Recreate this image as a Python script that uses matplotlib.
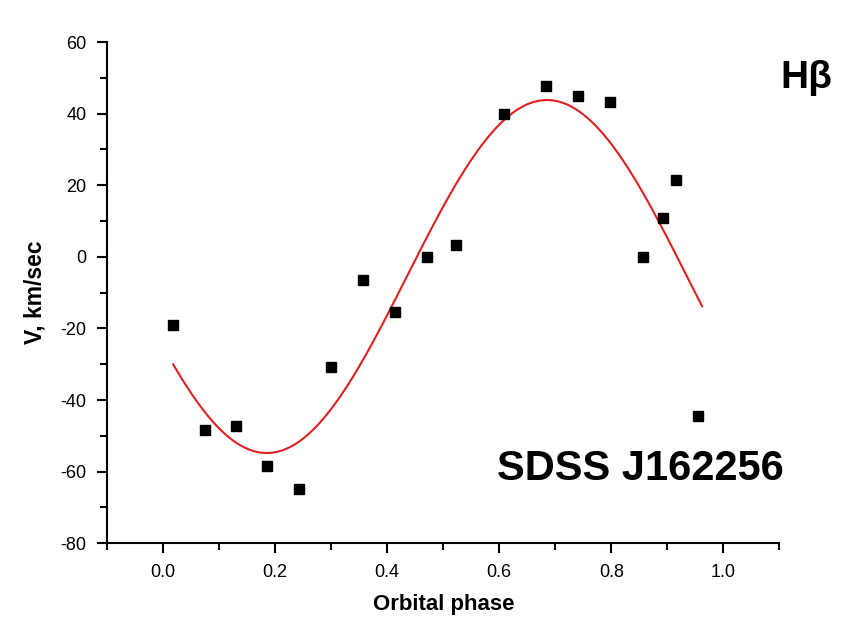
import matplotlib
matplotlib.use('Agg')
import numpy as np
from matplotlib import pyplot as plt
from matplotlib.ticker import MultipleLocator, FormatStrFormatter

plt.rcParams['font.family'] = ['Liberation Sans', 'DejaVu Sans']
plt.rcParams['axes.unicode_minus'] = False

# observed radial velocities (H-beta)
phase = [0.018, 0.075, 0.130, 0.186, 0.243, 0.300, 0.357, 0.414, 0.471,
         0.523, 0.609, 0.684, 0.741, 0.798, 0.857, 0.893, 0.916, 0.955]
velocity = [-19.0, -48.4, -47.3, -58.4, -64.9, -30.8, -6.5, -15.4, 0.0,
            3.3, 39.9, 47.7, 44.9, 43.2, 0.0, 10.8, 21.5, -44.5]

# sine fit parameters: V = gamma + K sin(2pi(phi - phi0))
gamma = -5.5
K = 49.3
phi0 = 0.435
fit_start, fit_end = 0.018, 0.962

fig = plt.figure(figsize=(8.5, 6.18), dpi=100)
ax = fig.add_axes([0.126, 0.121, 0.791, 0.811])

ph = np.linspace(fit_start, fit_end, 300)
ax.plot(ph, gamma + K * np.sin(2 * np.pi * (ph - phi0)), color='#e02020', lw=1.5)
ax.plot(phase, velocity, 's', color='black', ms=7.5)

ax.set_xlim(-0.1, 1.1)
ax.set_ylim(-80, 60)
ax.xaxis.set_major_locator(MultipleLocator(0.2))
ax.xaxis.set_minor_locator(MultipleLocator(0.1))
ax.yaxis.set_major_locator(MultipleLocator(20))
ax.yaxis.set_minor_locator(MultipleLocator(10))
ax.xaxis.set_major_formatter(FormatStrFormatter('%.1f'))
for s in ['top', 'right']:
    ax.spines[s].set_visible(False)
for s in ['left', 'bottom']:
    ax.spines[s].set_linewidth(1.5)
ax.tick_params(which='major', length=7, width=1.5, labelsize=13, pad=8)
ax.tick_params(which='minor', length=5, width=1.5)

ax.set_xlabel('Orbital phase', fontsize=16, fontweight='bold', labelpad=9)
ax.set_ylabel('V, km/sec', fontsize=16.5, fontweight='bold', labelpad=10)

fig.text(0.918, 0.873, 'Hβ', fontsize=28, fontweight='bold', ha='left', va='center')
fig.text(0.585, 0.241, 'SDSS J162256', fontsize=30, fontweight='bold', ha='left', va='center')

fig.savefig('out.png', dpi=100)
